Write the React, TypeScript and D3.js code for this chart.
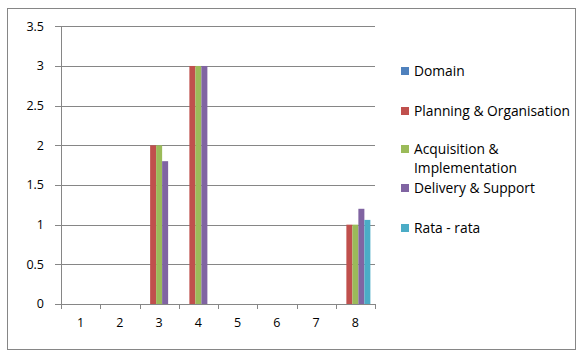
import React from "react";
import * as d3 from "d3";

const categories = ["1", "2", "3", "4", "5", "6", "7", "8"];
const seriesNames = [
  "Domain",
  "Planning & Organisation",
  "Acquisition & Implementation",
  "Delivery & Support",
  "Rata - rata",
];
const domainValues = [0, 0, 0, 0, 0, 0, 0, 0];
const planningValues = [0, 0, 2, 3, 0, 0, 0, 1];
const acquisitionValues = [0, 0, 2, 3, 0, 0, 0, 1];
const deliveryValues = [0, 0, 1.8, 3, 0, 0, 0, 1.2];
const rataValues = [0, 0, 0, 0, 0, 0, 0, 1.06];
const yTicks = [0, 0.5, 1, 1.5, 2, 2.5, 3, 3.5];
const colors = ["#4f81bd", "#c0504d", "#9bbb59", "#8064a2", "#4bacc6"];

const seriesValues = [domainValues, planningValues, acquisitionValues, deliveryValues, rataValues];

const font = "'Open Sans', Lato, sans-serif";

export default function App() {
  const W = 579;
  const H = 352;
  const plot = { left: 61, right: 375, top: 26.3, bottom: 304 };

  const x0 = d3.scaleBand().domain(categories).range([plot.left, plot.right]);
  const barW = 6;
  const x1 = d3
    .scaleBand()
    .domain(seriesNames)
    .range([0, barW * seriesNames.length]);
  const y = d3.scaleLinear().domain([0, 3.5]).range([plot.bottom, plot.top]);

  const legendRows = [
    { y: 71, lines: ["Domain"] },
    { y: 111, lines: ["Planning & Organisation"] },
    { y: 149, lines: ["Acquisition &", "Implementation"] },
    { y: 188, lines: ["Delivery & Support"] },
    { y: 228, lines: ["Rata - rata"] },
  ];

  return (
    <svg
      width={W}
      height={H}
      style={{ position: "absolute", left: 0, top: 0 }}
      fontFamily={font}
    >
      <rect x={0} y={0} width={W} height={H} fill="#fff" />
      <rect x={7.5} y={8.5} width={568} height={341} fill="none" stroke="#868686" />

      {yTicks.map((t) => (
        <g key={t}>
          <line
            x1={55}
            x2={plot.right}
            y1={Math.round(y(t)) + 0.5}
            y2={Math.round(y(t)) + 0.5}
            stroke="#868686"
          />
          <text
            x={44}
            y={y(t)}
            dy="0.35em"
            textAnchor="end"
            fontSize={12.5}
            fill="#000"
          >
            {t}
          </text>
        </g>
      ))}
      <line x1={61.5} x2={61.5} y1={plot.top} y2={plot.bottom} stroke="#868686" />

      {categories.map((c, i) => (
        <g key={c}>
          <line
            x1={Math.round(x0(c)! + x0.bandwidth()) + 0.5}
            x2={Math.round(x0(c)! + x0.bandwidth()) + 0.5}
            y1={plot.bottom}
            y2={plot.bottom + 5}
            stroke="#868686"
          />
          <text
            x={x0(c)! + x0.bandwidth() / 2}
            y={plot.bottom + 23}
            textAnchor="middle"
            fontSize={12.5}
          >
            {c}
          </text>
          {seriesNames.map((s, k) => {
            const v = seriesValues[k][i];
            if (!v) return null;
            const gx = x0(c)! + (x0.bandwidth() - barW * seriesNames.length) / 2;
            return (
              <rect
                key={s}
                x={gx + x1(s)!}
                y={y(v)}
                width={x1.bandwidth()}
                height={y(0) - y(v)}
                fill={colors[k]}
              />
            );
          })}
        </g>
      ))}
      <line x1={61.5} x2={61.5} y1={plot.bottom} y2={plot.bottom + 5} stroke="#868686" />

      {legendRows.map((r, k) => (
        <g key={k}>
          <rect x={401} y={r.y - 4} width={8} height={8} fill={colors[k]} />
          <text x={414} y={r.y} fontSize={13.8}>
            {r.lines.map((l, j) => (
              <tspan key={j} x={414} dy={j === 0 ? "0.35em" : 19}>
                {l}
              </tspan>
            ))}
          </text>
        </g>
      ))}
    </svg>
  );
}
